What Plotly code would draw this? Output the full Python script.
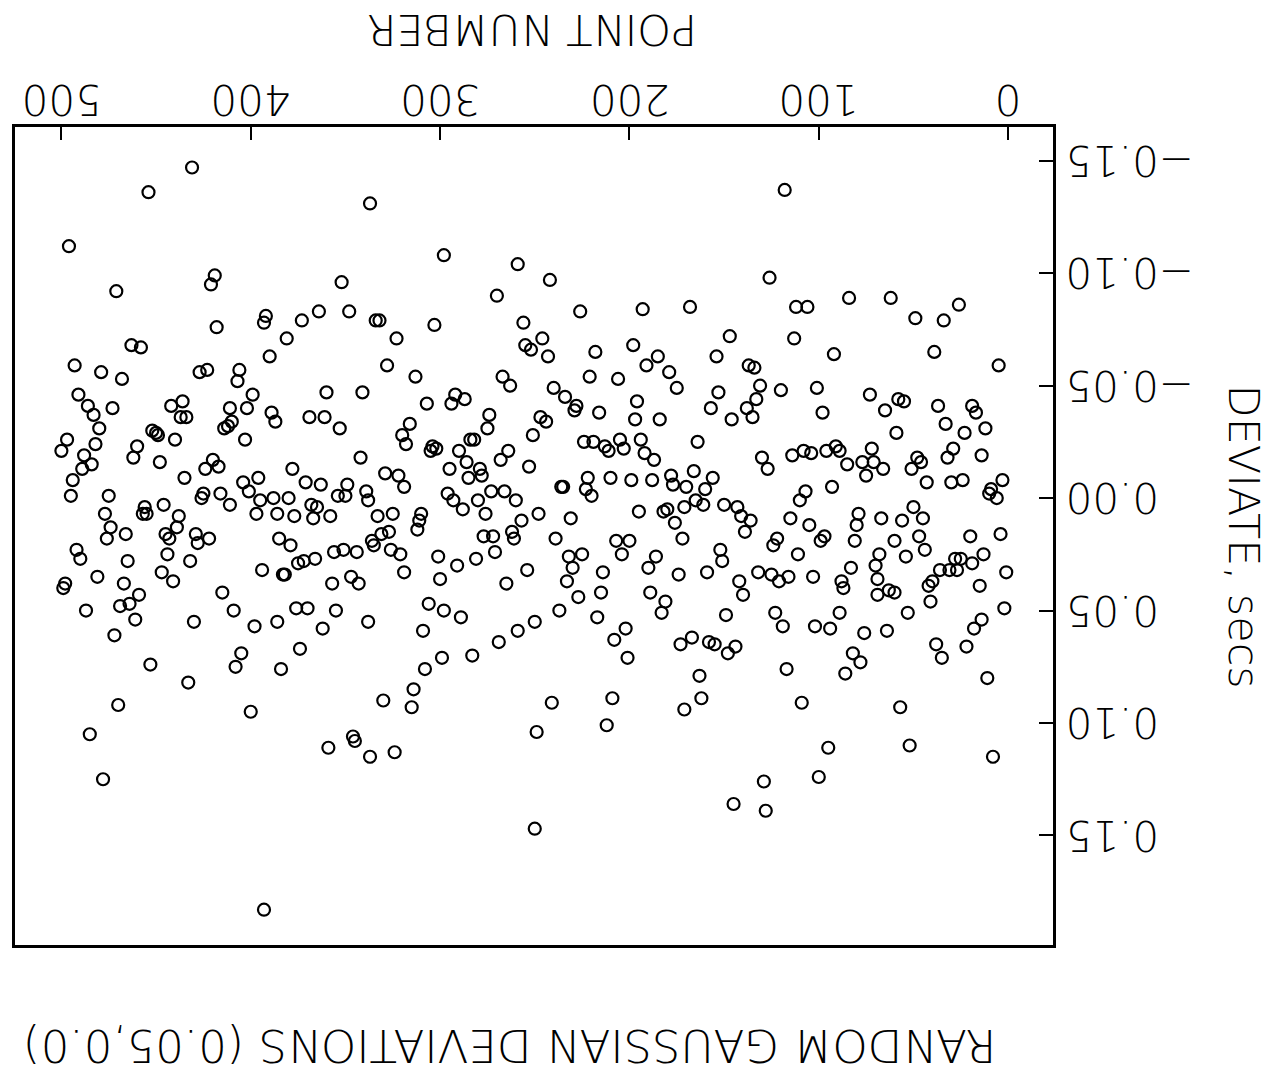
import plotly.graph_objects as go

point_number = [
431,454,496,471,419,421,418,392,393,463,458,390,493,479,468,427,423,406,407,491,
486,483,480,473,442,436,437,434,411,402,399,414,410,412,389,387,452,450,449,440,
403,497,500,482,488,489,484,460,462,448,420,417,424,435,396,404,401,395,388,494,
495,475,425,426,416,411,456,455,457,446,438,477,397,386,474,466,476,445,439,443,
429,422,385,428,492,490,465,444,432,447,441,394,383,481,467,498,499,415,459,464,
469,487,461,430,409,398,386,472,405,408,453,433,384,470,400,485,478,393,
337,298,259,352,270,364,373,381,348,334,332,323,303,256,246,255,252,328,313,267,
263,360,341,307,292,294,287,274,275,247,251,369,361,353,316,320,318,304,302,305,
284,282,290,264,268,253,342,378,295,286,279,285,278,329,322,319,371,363,349,354,
350,339,338,380,296,293,288,280,276,273,266,260,248,257,368,365,367,377,358,333,
325,310,311,312,327,331,336,277,272,262,261,
379,375,372,366,382,356,351,344,335,326,321,357,347,343,319,301,291,281,271,300,
254,265,376,370,355,362,338,306,298,289,309,250,259,269,283,299,308,374,314,315,
330,346,345,359,337,324,249,250,
118,242,126,226,193,168,112,113,147,243,218,198,191,185,179,175,154,137,134,131,
133,138,135,120,153,157,146,240,234,228,229,221,206,196,197,184,216,244,224,219,
213,211,205,203,194,192,187,164,130,127,114,236,235,222,223,220,210,199,188,178,
177,170,166,156,160,165,161,171,182,180,176,195,231,150,143,141,136,139,115,239,
207,200,172,122,
124,111,204,232,225,230,233,214,227,215,190,186,174,159,152,151,189,181,183,142,
140,132,125,121,116,237,217,202,208,201,149,123,119,167,173,158,155,144,148,163,
162,171,117,241,209,212,129,128,145,
84,62,106,26,49,34,92,39,5,101,73,58,55,37,33,19,17,65,98,59,
23,12,108,104,96,91,89,85,72,77,71,75,66,48,46,51,29,32,14,43,
30,24,9,10,6,3,107,110,93,50,79,80,67,56,45,105,47,20,4,97,
99,81,60,
44,103,83,88,87,68,70,69,69,63,60,54,89,102,94,76,64,53,82,78,
86,42,40,41,36,31,28,25,27,19,13,15,1,2,14,18,22,38,35,11,
109,57,95,52,8,100,
]

deviate = [
-0.147,-0.136,-0.112,-0.092,-0.099,-0.095,-0.076,-0.081,-0.078,-0.068,-0.067,-0.063,-0.059,-0.056,-0.053,-0.056,-0.057,-0.057,-0.052,-0.046,
-0.041,-0.037,-0.031,-0.040,-0.041,-0.043,-0.036,-0.036,-0.040,-0.040,-0.046,-0.031,-0.034,-0.032,-0.038,-0.034,-0.030,-0.029,-0.028,-0.026,
-0.026,-0.026,-0.021,-0.024,-0.019,-0.013,-0.015,-0.023,-0.018,-0.016,-0.017,-0.014,-0.013,-0.009,-0.009,-0.007,-0.003,0.001,0.000,-0.008,
-0.001,-0.001,-0.002,0.000,-0.002,0.003,0.004,0.007,0.007,0.003,0.008,0.007,0.007,0.007,0.013,0.016,0.018,0.016,0.013,0.018,
0.016,0.018,0.018,0.020,0.023,0.027,0.028,0.025,0.028,0.033,0.037,0.032,0.034,0.035,0.038,0.038,0.040,0.042,0.043,0.047,
0.048,0.050,0.054,0.055,0.050,0.057,0.055,0.061,0.069,0.075,0.074,0.082,0.076,0.092,0.095,0.105,0.125,0.183,
-0.131,-0.108,-0.104,-0.096,-0.090,-0.083,-0.079,-0.071,-0.083,-0.079,-0.079,-0.071,-0.077,-0.078,-0.071,-0.068,-0.066,-0.059,-0.054,-0.054,
-0.050,-0.047,-0.047,-0.042,-0.046,-0.042,-0.044,-0.037,-0.031,-0.036,-0.028,-0.036,-0.036,-0.031,-0.033,-0.028,-0.024,-0.023,-0.022,-0.021,
-0.026,-0.026,-0.021,-0.021,-0.017,-0.014,-0.018,-0.013,-0.013,-0.016,-0.013,-0.009,-0.010,-0.011,-0.010,-0.005,-0.007,-0.006,-0.006,-0.001,
-0.001,-0.003,0.001,0.000,-0.002,0.001,0.005,0.001,0.007,-0.003,-0.003,0.001,0.007,0.010,0.003,0.004,0.009,0.008,0.008,0.008,
0.007,0.007,0.010,0.014,0.015,0.016,0.019,0.017,0.017,0.015,0.018,
0.021,0.029,0.028,0.027,0.034,0.024,0.023,0.024,0.021,0.023,0.025,0.038,0.035,0.038,0.033,0.026,0.030,0.027,0.024,0.036,
0.032,0.038,0.049,0.049,0.050,0.058,0.055,0.047,0.050,0.053,0.059,0.055,0.059,0.064,0.070,0.071,0.076,0.067,0.085,0.093,
0.090,0.106,0.108,0.111,0.115,0.113,0.104,0.147,
-0.137,-0.097,-0.098,-0.083,-0.084,-0.085,-0.085,-0.071,-0.072,-0.063,-0.065,-0.068,-0.059,-0.063,-0.056,-0.049,-0.063,-0.059,-0.058,-0.050,
-0.044,-0.040,-0.036,-0.048,-0.047,-0.040,-0.035,-0.049,-0.045,-0.041,-0.039,-0.054,-0.053,-0.043,-0.035,-0.035,-0.038,-0.034,-0.025,-0.025,
-0.023,-0.021,-0.026,-0.022,-0.026,-0.020,-0.017,-0.025,-0.018,-0.013,-0.019,-0.005,-0.005,-0.009,-0.004,-0.001,-0.009,-0.008,-0.008,-0.010,
-0.006,-0.005,-0.012,-0.009,-0.004,0.001,0.003,0.004,0.006,0.005,0.011,0.006,0.009,0.003,0.004,0.008,0.010,0.015,0.009,0.018,
0.019,0.019,0.018,0.018,
0.021,0.025,0.025,0.026,0.025,0.031,0.037,0.033,0.044,0.042,0.031,0.026,0.034,0.033,0.023,0.028,0.042,0.046,0.051,0.037,
0.043,0.033,0.034,0.037,0.035,0.050,0.053,0.058,0.063,0.071,0.052,0.051,0.057,0.062,0.065,0.064,0.065,0.066,0.069,0.079,
0.089,0.094,0.076,0.091,0.089,0.101,0.126,0.139,0.136,
-0.089,-0.089,-0.085,-0.086,-0.080,-0.079,-0.064,-0.065,-0.059,-0.049,-0.046,-0.044,-0.043,-0.041,-0.033,-0.041,-0.038,-0.039,-0.038,-0.029,
-0.029,-0.031,-0.021,-0.020,-0.021,-0.023,-0.021,-0.015,-0.022,-0.016,-0.016,-0.010,-0.013,-0.018,-0.016,-0.013,-0.022,-0.018,-0.019,-0.007,
-0.007,-0.008,-0.004,-0.002,0.000,-0.008,-0.003,0.001,-0.005,0.004,0.007,0.012,0.009,0.010,0.009,0.012,0.017,0.017,0.016,0.017,
0.019,0.019,0.019,
0.023,0.035,0.031,0.037,0.040,0.025,0.030,0.036,0.043,0.041,0.042,0.026,0.051,0.057,0.058,0.060,0.059,0.051,0.069,0.073,
0.078,0.039,0.037,0.046,0.032,0.032,0.027,0.027,0.032,0.029,0.025,0.039,0.033,0.049,0.054,0.058,0.066,0.065,0.071,0.080,
0.091,0.093,0.111,0.110,0.115,0.124,
]

x_ticks = [0, 100, 200, 300, 400, 500]
x_tick_labels = ["0", "100", "200", "300", "400", "500"]
y_ticks = [-0.15, -0.10, -0.05, 0.00, 0.05, 0.10, 0.15]
y_tick_labels = ["\u22120.15", "\u22120.10", "\u22120.05", "0.00", "0.05", "0.10", "0.15"]

FONT = "DejaVu Sans"
TICK_FONT = dict(family=FONT, size=42, color="black", weight=300)
TITLE_FONT = dict(family=FONT, size=43, color="black", weight=300)
MAIN_TITLE_FONT = dict(family=FONT, size=45, color="black", weight=300)

fig = go.Figure()
fig.add_trace(go.Scatter(
    x=point_number, y=deviate, mode="markers",
    marker=dict(symbol="circle-open", size=12, color="black", line=dict(width=2.2, color="black")),
    showlegend=False, hoverinfo="skip",
))

annotations = []
# x tick labels (upside down, above the top axis)
for v, t in zip(x_ticks, x_tick_labels):
    annotations.append(dict(text=t, xref="x", yref="paper", x=v, y=1.033,
                            showarrow=False, textangle=180, xanchor="center", yanchor="middle",
                            font=TICK_FONT))
# y tick labels (upside down, right of the right axis)
for v, t in zip(y_ticks, y_tick_labels):
    annotations.append(dict(text=t, xref="paper", yref="y", x=1.0, y=v, xshift=10,
                            showarrow=False, textangle=180, xanchor="left", yanchor="middle",
                            font=TICK_FONT))
annotations += [
    dict(text="POINT NUMBER", xref="paper", yref="paper", x=0.4976, y=1.1186,
         showarrow=False, textangle=180, xanchor="center", yanchor="middle", font=TITLE_FONT),
    dict(text="DEVIATE, secs", xref="paper", yref="paper", x=1.1844, y=0.4988,
         showarrow=False, textangle=90, xanchor="center", yanchor="middle", font=TITLE_FONT),
    dict(text="RANDOM GAUSSIAN DEVIATIONS (0.05,0.0)", xref="paper", yref="paper",
         x=0.4765, y=-0.1222, showarrow=False, textangle=180,
         xanchor="center", yanchor="middle", font=MAIN_TITLE_FONT),
]

fig.update_layout(
    width=1278, height=1075,
    margin=dict(l=12, r=225, t=127, b=130),
    paper_bgcolor="white", plot_bgcolor="white",
    xaxis=dict(
        side="top", range=[524.5, -23.7], tickmode="array", tickvals=x_ticks,
        showticklabels=False,
        ticks="inside", ticklen=13, tickwidth=2, tickcolor="black",
        showline=True, mirror=True, linewidth=2.5, linecolor="black",
        showgrid=False, zeroline=False,
    ),
    yaxis=dict(
        side="right", range=[0.1987, -0.165], tickmode="array", tickvals=y_ticks,
        showticklabels=False,
        ticks="inside", ticklen=14, tickwidth=2, tickcolor="black",
        showline=True, mirror=True, linewidth=2.5, linecolor="black",
        showgrid=False, zeroline=False,
    ),
    annotations=annotations,
)

fig.write_html("out.html")
